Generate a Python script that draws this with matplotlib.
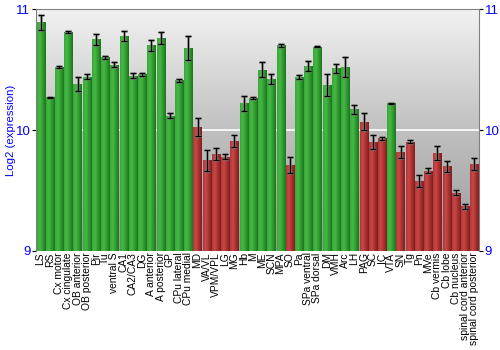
import numpy as np
import matplotlib
matplotlib.use("Agg")
import matplotlib.pyplot as plt
from matplotlib.colors import LinearSegmentedColormap

plt.rcParams['font.family'] = ['Liberation Sans', 'DejaVu Sans']

# regions, values (log2 expression) and error sizes
regions = ["LS", "RS", "Cx motor", "Cx cingulate", "OB anterior", "OB posterior",
           "Pir", "Tu", "ventral S", "CA1", "CA2/CA3", "DG", "A anterior",
           "A posterior", "GP", "CPu lateral", "CPu medial", "MD", "VA/VL",
           "VPM/VPL", "LG", "MG", "Hb", "M", "ME", "SCN", "MPA", "SO", "Pa",
           "SPa ventral", "SPa dorsal", "DM", "VMH", "Arc", "LH", "PAG", "SC",
           "IC", "VTA", "SN", "Tg", "Pn", "MVe", "Cb vermis", "Cb lobe",
           "Cb nucleus", "spinal cord anterior", "spinal cord posterior"]
values = [10.89, 10.27, 10.52, 10.81, 10.38, 10.44, 10.75, 10.60, 10.54, 10.78,
          10.45, 10.46, 10.70, 10.76, 10.12, 10.41, 10.68, 10.025, 9.75, 9.80,
          9.78, 9.91, 10.22, 10.265, 10.50, 10.42, 10.70, 9.71, 10.44, 10.53,
          10.69, 10.37, 10.51, 10.52, 10.17, 10.07, 9.90, 9.93, 10.22, 9.82,
          9.905, 9.58, 9.665, 9.81, 9.70, 9.48, 9.37, 9.72]
errors = [0.065, 0.005, 0.01, 0.01, 0.058, 0.02, 0.047, 0.01, 0.02, 0.04,
          0.02, 0.01, 0.045, 0.05, 0.02, 0.015, 0.10, 0.073, 0.085, 0.05,
          0.02, 0.047, 0.06, 0.01, 0.065, 0.043, 0.01, 0.068, 0.015, 0.04,
          0.005, 0.09, 0.037, 0.08, 0.035, 0.07, 0.057, 0.015, 0.005, 0.05,
          0.015, 0.05, 0.02, 0.06, 0.045, 0.02, 0.02, 0.05]
# g = green (up), r = red (down)
groups = list("g" * 17 + "r" * 5 + "g" * 5 + "r" + "g" * 7 + "r" * 3 + "g" + "r" * 9)

fig = plt.figure(figsize=(5, 3.5), dpi=100)
ax = fig.add_axes([0.072, 0.283, 0.886, 0.691])

x = np.arange(len(regions))
ax.set_xlim(-0.5, len(regions) - 0.5)
ax.set_ylim(9, 11)

# background gradient
bg = LinearSegmentedColormap.from_list("bg", ["#9a9a9a", "#c0c0c0", "#f2f2f2"])
ax.imshow(np.linspace(0, 1, 256).reshape(-1, 1), cmap=bg, aspect="auto",
          extent=[-0.5, len(regions) - 0.5, 9, 11], origin="lower", zorder=0)
ax.axhline(10, color="white", lw=1.2, zorder=1)

# bars shaded light on the left, dark on the right
green_cm = LinearSegmentedColormap.from_list("g", ["#3aa83a", "#46b846", "#2f9a2f", "#1d751d"])
red_cm = LinearSegmentedColormap.from_list("r", ["#b03838", "#c84848", "#a83030", "#7e1e1e"])
grad = np.linspace(0, 1, 64).reshape(1, -1)

bars = ax.bar(x, np.array(values) - 9, bottom=9, width=0.88, color="none",
              edgecolor="none", zorder=2)
for b, g in zip(bars, groups):
    im = ax.imshow(grad, cmap=green_cm if g == "g" else red_cm, aspect="auto",
                   extent=[b.get_x(), b.get_x() + b.get_width(), 9, 9 + b.get_height()],
                   zorder=2)
    im.set_clip_path(b)

ax.errorbar(x, values, yerr=errors, fmt="none", ecolor="#888888", elinewidth=2.2,
            capsize=2.5, capthick=2.2, alpha=0.6, zorder=3)
ax.errorbar(x, values, yerr=errors, fmt="none", ecolor="black", elinewidth=0.9,
            capsize=2, capthick=0.9, zorder=4)

ax.set_xticks(x)
ax.set_xticklabels(regions, rotation=90, fontsize=7.4)
ax.tick_params(axis="x", length=0, pad=1)
ax.set_yticks([9, 10, 11])
ax.tick_params(axis="y", labelcolor="blue", labelsize=9.5, length=3, color="black",
               left=True, right=True, labelleft=True, labelright=True, pad=1)
ax.set_ylabel("Log2 (expression)", color="blue", fontsize=8.2, labelpad=0)

for s in ax.spines.values():
    s.set_color("#808080")
ax.spines["bottom"].set_visible(False)

fig.savefig("out.png", dpi=100)
